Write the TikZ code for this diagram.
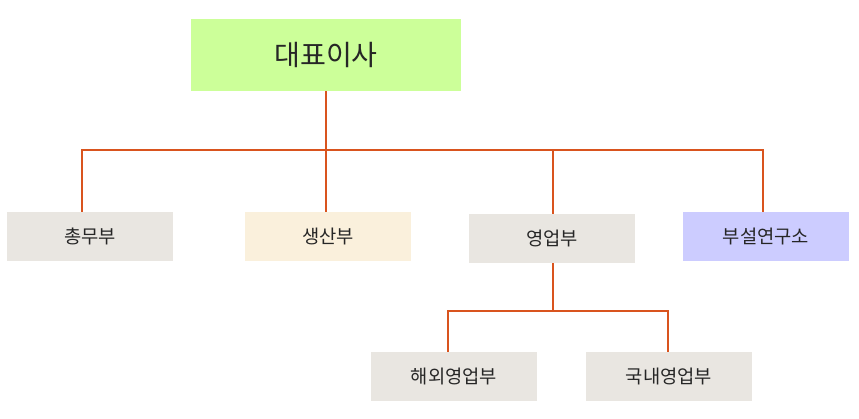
\documentclass[tikz,border=0pt]{standalone}
\usepackage{fontspec}
\setmainfont{Noto Sans CJK KR}
\usetikzlibrary{positioning,calc}
\definecolor{linec}{HTML}{D9541E}
\definecolor{greenc}{HTML}{CCFF99}
\definecolor{grayc}{HTML}{E9E6E1}
\definecolor{creamc}{HTML}{FAF0DC}
\definecolor{bluec}{HTML}{CCCCFF}
\tikzstyle{dept}=[inner sep=0pt, minimum width=166*0.03cm, minimum height=49*0.03cm,
text centered, font=\fontsize{16}{18}\selectfont, text=black!85]
\tikzstyle{ceo}=[dept, minimum width=270*0.03cm, minimum height=72*0.03cm, fill=greenc,
font=\fontsize{24}{28}\selectfont]
\tikzstyle{line}=[draw, color=linec, line width=1.2pt]
\begin{document}
\begin{tikzpicture}[x=0.03cm,y=-0.03cm]
		\useasboundingbox (0,0) rectangle (859,419);
		
		% Draw diagram elements
		\node (ceo)[ceo] at (326,55) {대표이사};
		\node (p1)[dept, fill=grayc] at (90,236.5) {총무부};
		\node (p2)[dept, fill=creamc] at (328,236.5) {생산부};
		\node (p3)[dept, fill=grayc] at (552,238.5) {영업부};
		\node (p4)[dept, fill=bluec] at (766,236.5) {부설연구소};
		\node (p5)[dept, fill=grayc] at (454,376.5) {해외영업부};
		\node (p6)[dept, fill=grayc] at (669,376.5) {국내영업부};
		
		% Draw lines between elements
		\coordinate (j1) at (326,150);
		\coordinate (j2) at (553,311);
		\path [line] (ceo.south -| j1) -- (j1);
		\path [line] (82,150 |- p1.north) |- (j1) -| (763,150 |- p4.north);
		\path [line] (j1) -- (j1 |- p2.north);
		\path [line] (553,150) -- (553,150 |- p3.north);
		\path [line] (j2 |- p3.south) -- (j2);
		\path [line] (448,311 |- p5.north) |- (j2) -| (668,311 |- p6.north);
		
\end{tikzpicture}
\end{document}
